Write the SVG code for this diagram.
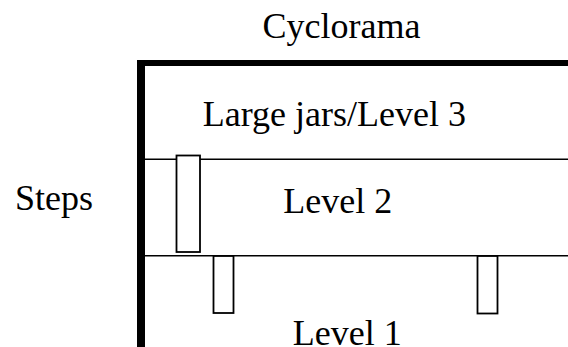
<svg xmlns="http://www.w3.org/2000/svg" width="568" height="347" viewBox="0 0 568 347">
<style>
text{font-family:'Liberation Serif','Times New Roman',Tinos,'DejaVu Serif',serif;font-size:36px;fill:#000}
.ln{stroke:#000;stroke-width:1.6;fill:none}
.bx{stroke:#000;stroke-width:1.8;fill:#fff}
</style>
<rect width="568" height="347" fill="#fff"/>
<g id="walls">
<rect x="137" y="60" width="8" height="287" fill="#000"/>
<rect x="137" y="60" width="431" height="6" fill="#000"/>
</g>
<g id="connectors">
<line class="ln" x1="145" y1="159.3" x2="568" y2="159.3"/>
<line class="ln" x1="145" y1="255.7" x2="568" y2="255.7"/>
</g>
<g id="step1"><rect class="bx" x="176.5" y="155.5" width="23.5" height="96.5"/></g>
<g id="step2"><rect class="bx" x="213.5" y="256" width="20" height="57"/></g>
<g id="step3"><rect class="bx" x="477.5" y="256" width="20" height="57.5"/></g>
<g id="labels" font-family="Liberation Serif, DejaVu Serif, serif">
<text x="262.5" y="38.3">Cyclorama</text>
<text x="202.7" y="126">Large jars/Level 3</text>
<text x="15" y="210">Steps</text>
<text x="283.3" y="213.3">Level 2</text>
<text x="292.7" y="345">Level 1</text>
</g>
</svg>
